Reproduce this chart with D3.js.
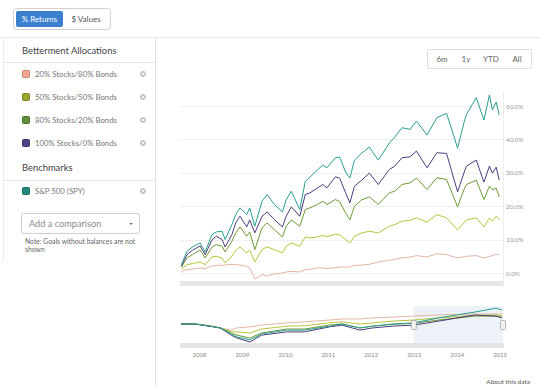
<!DOCTYPE html>
<html>
<head>
<meta charset="utf-8">
<script src="https://cdn.jsdelivr.net/npm/d3@7"></script>
<style>
  body { margin: 0; background: #fff; }
  svg { display: block; font-family: Lato, "Open Sans", sans-serif; }
</style>
</head>
<body>
<script>
// main chart data, % returns since Jan 2013
const dates = ['2013-01-02','2013-01-15','2013-01-28','2013-02-15','2013-02-27','2013-03-15','2013-03-25','2013-04-08',
  '2013-04-15','2013-05-01','2013-05-10','2013-05-20','2013-06-05','2013-06-12','2013-06-24','2013-07-11',
  '2013-07-23','2013-08-09','2013-08-28','2013-09-06','2013-09-18','2013-10-08','2013-10-21','2013-11-01',
  '2013-11-18','2013-12-01','2013-12-11','2013-12-31','2014-01-10','2014-01-24','2014-02-03','2014-02-14',
  '2014-03-03','2014-03-21','2014-04-11','2014-05-07','2014-05-20','2014-06-06','2014-06-25','2014-07-10',
  '2014-08-04','2014-08-27','2014-09-19','2014-10-15','2014-10-30','2014-11-05','2014-11-28','2014-12-16',
  '2014-12-29','2015-01-05','2015-01-14','2015-01-21'];
const sp500 = [2.5, 6.5, 7.8, 9.0, 6.3, 11.5, 12.3, 12.5, 10.0, 14.5, 17.5, 19.5, 17.5, 19.5, 14.0, 21.5,
  23.5, 20.5, 18.3, 21.9, 24.5, 19.0, 27.5, 28.7, 30.8, 32.3, 31.5, 34.5, 34.7, 30.2, 28.4, 33.8,
  35.9, 37.7, 33.8, 38.9, 40.7, 43.5, 43.0, 45.5, 41.3, 46.5, 47.8, 37.4, 45.0, 47.5, 52.5, 45.8,
  53.3, 48.8, 51.2, 47.3];
const stocks100 = [2.0, 5.5, 6.8, 8.1, 5.5, 9.9, 11.0, 10.0, 7.8, 11.5, 15.0, 17.0, 13.8, 15.9, 12.0, 17.0,
  18.3, 16.0, 13.8, 17.0, 19.8, 17.0, 23.5, 24.0, 25.4, 26.5, 25.5, 28.8, 28.4, 24.0, 21.0, 26.0,
  27.8, 29.9, 26.5, 31.0, 32.0, 34.5, 34.8, 36.5, 31.5, 36.0, 35.8, 24.3, 30.0, 32.0, 33.8, 27.2,
  32.0, 29.9, 31.7, 27.8];
const stocks80 = [1.8, 4.5, 5.5, 6.9, 4.5, 7.8, 8.5, 8.0, 6.3, 9.5, 12.0, 13.8, 11.0, 12.3, 7.0, 13.5,
  15.0, 13.0, 10.8, 14.0, 15.9, 14.0, 19.0, 19.5, 20.5, 21.5, 20.5, 22.0, 21.3, 18.0, 15.9, 20.0,
  21.9, 22.8, 20.5, 24.0, 24.5, 26.5, 27.0, 28.4, 25.0, 28.5, 28.0, 19.8, 25.0, 26.5, 27.8, 22.0,
  26.0, 24.9, 25.4, 22.8];
const stocks50 = [1.2, 2.5, 2.8, 3.3, 2.5, 4.8, 5.0, 4.5, 3.0, 5.0, 6.8, 7.8, 6.0, 6.9, 3.3, 7.0,
  7.8, 7.0, 6.0, 8.0, 9.0, 8.0, 10.8, 10.5, 10.8, 11.3, 10.8, 11.6, 11.4, 10.0, 9.0, 11.0,
  12.0, 12.5, 12.0, 14.0, 14.5, 15.5, 15.8, 16.5, 15.2, 17.5, 16.5, 12.9, 15.0, 15.9, 16.5, 13.8,
  16.5, 15.5, 17.0, 16.0];
const stocks20 = [0.5, 1.0, 1.2, 1.5, 1.3, 2.1, 2.3, 2.3, 2.4, 2.6, 2.5, 2.4, 2.0, 1.5, -1.8, -0.5,
  -0.9, -0.3, 0.0, 0.3, 0.5, 0.3, 1.0, 1.1, 1.5, 1.5, 1.3, 1.6, 1.8, 1.8, 1.8, 2.2,
  2.4, 2.6, 3.3, 3.8, 4.1, 4.5, 4.8, 5.2, 4.8, 5.8, 5.5, 4.5, 4.9, 5.0, 5.2, 4.5,
  5.0, 5.2, 5.6, 5.4];

// navigator data, % since Aug 2007
const navDates = ['2007-08-01','2007-12-01','2008-04-01','2008-07-01','2008-10-01','2008-11-20','2009-03-09',
  '2009-06-15','2010-01-15','2010-06-15','2011-01-15','2011-05-01','2011-10-01','2012-01-15','2012-07-01',
  '2013-01-02','2013-08-01','2014-06-01','2014-12-01','2015-01-21'];
const navSp500 = [0, 0, -6, -11, -28, -36, -44, -28, -17, -17, -6, 0, -11, -6, 0, 3, 17, 33, 44, 39];
const nav100 = [0, 0, -6, -11, -31, -39, -50, -31, -22, -22, -8, -3, -17, -11, -6, -3, 8, 25, 22, 17];
const nav80 = [0, 0, -6, -11, -25, -31, -39, -25, -14, -14, -3, 0, -11, -6, -1, 2, 11, 22, 22, 19];
const nav50 = [0, 0, -5, -11, -21, -22, -25, -14, -6, -5, 3, 6, 0, 3, 8, 11, 17, 24, 25, 24];
const nav20 = [0, 0, -5, -11, -17, -11, -8, -3, 3, 6, 11, 14, 14, 17, 19, 22, 25, 28, 28, 28];

const yTicks = [0, 10, 20, 30, 40, 50];
const xTicks = ['2013-01-01','2013-04-01','2013-07-01','2013-10-01','2014-01-01','2014-04-01','2014-07-01','2014-10-01','2015-01-01'];
const navTicks = ['2008','2009','2010','2011','2012','2013','2014','2015'];
const rangeButtons = ['6m', '1y', 'YTD', 'All'];

const allocations = ['20% Stocks/80% Bonds', '50% Stocks/50% Bonds', '80% Stocks/20% Bonds', '100% Stocks/0% Bonds'];
const benchmarks = ['S&P 500 (SPY)'];
const swatchColors = ['#f0a690', '#9aa52c', '#5e8c36', '#4b4281', '#23897c'];
const lineColors = ['#e4b4a8', '#b9c43c', '#6c9b38', '#4d3d7c', '#2a9e8f'];

const parse = d3.timeParse('%Y-%m-%d');
const W = 540, H = 387;

const svg = d3.select('body').append('svg')
    .attr('width', W)
    .attr('height', H);

// page frame
svg.append('line').attr('x1', 0).attr('x2', W).attr('y1', 37.5).attr('y2', 37.5).attr('stroke', '#e8e8e8');
svg.append('line').attr('x1', 155.5).attr('x2', 155.5).attr('y1', 37).attr('y2', H).attr('stroke', '#e3e3e3');
svg.append('line').attr('x1', 3.5).attr('x2', 3.5).attr('y1', 37).attr('y2', 262).attr('stroke', '#ececec');

// tabs
svg.append('rect').attr('x', 13.5).attr('y', 8.5).attr('width', 97).attr('height', 21).attr('rx', 3)
    .attr('fill', '#fff').attr('stroke', '#d2d2d2');
svg.append('rect').attr('x', 16).attr('y', 11).attr('width', 47).attr('height', 16).attr('rx', 2).attr('fill', '#3c7fce');
svg.append('text').attr('x', 39.5).attr('y', 22).attr('text-anchor', 'middle').attr('font-size', 8)
    .attr('fill', '#fff').text('% Returns');
svg.append('text').attr('x', 86).attr('y', 22).attr('text-anchor', 'middle').attr('font-size', 8)
    .attr('fill', '#555').text('$ Values');

// left panel
svg.append('text').attr('x', 22).attr('y', 54).attr('font-size', 9.4).attr('fill', '#444').text('Betterment Allocations');
svg.append('line').attr('x1', 4).attr('x2', 155).attr('y1', 62.5).attr('y2', 62.5).attr('stroke', '#e6e6e6');
svg.append('text').attr('x', 22).attr('y', 171).attr('font-size', 9.4).attr('fill', '#444').text('Benchmarks');
svg.append('line').attr('x1', 4).attr('x2', 155).attr('y1', 180.5).attr('y2', 180.5).attr('stroke', '#e6e6e6');

const legendItems = allocations.map((d, i) => ({name: d, y: 74 + i * 23, color: swatchColors[i]}))
    .concat(benchmarks.map(d => ({name: d, y: 191, color: swatchColors[4]})));

const item = svg.selectAll('g.item')
    .data(legendItems)
    .join('g')
    .attr('class', 'item')
    .attr('transform', d => `translate(0,${d.y})`);
item.append('rect').attr('x', 22.5).attr('y', -3.5).attr('width', 7).attr('height', 7).attr('rx', 1)
    .attr('fill', d => d.color).attr('stroke', d => d3.color(d.color).darker(0.6));
item.append('text').attr('x', 35).attr('y', 3).attr('font-size', 7.8).attr('fill', '#777').text(d => d.name);
item.append('circle').attr('cx', 143).attr('cy', 0).attr('r', 3).attr('fill', '#c4c4c4');
item.append('path').attr('d', 'M141.6,-1.4L144.4,1.4M144.4,-1.4L141.6,1.4').attr('stroke', '#fff').attr('stroke-width', 0.8);

// add a comparison dropdown
svg.append('rect').attr('x', 21.5).attr('y', 213.5).attr('width', 118).attr('height', 20).attr('rx', 2)
    .attr('fill', '#fff').attr('stroke', '#cfcfcf');
svg.append('text').attr('x', 29).attr('y', 227).attr('font-size', 9.2).attr('fill', '#8a8a8a').text('Add a comparison');
svg.append('path').attr('d', 'M129,223L133,223L131,225Z').attr('fill', '#777');
svg.append('text').attr('x', 25).attr('y', 244).attr('font-size', 6.8).attr('fill', '#666')
    .text('Note: Goals without balances are not');
svg.append('text').attr('x', 25).attr('y', 252).attr('font-size', 6.8).attr('fill', '#666').text('shown');

// range selector
svg.append('rect').attr('x', 427.5).attr('y', 49.5).attr('width', 104).attr('height', 19).attr('rx', 2)
    .attr('fill', '#fff').attr('stroke', '#ddd');
svg.selectAll('text.range')
    .data(rangeButtons)
    .join('text')
    .attr('class', 'range')
    .attr('x', (d, i) => [442, 466, 491, 517][i])
    .attr('y', 62)
    .attr('text-anchor', 'middle')
    .attr('font-size', 8)
    .attr('fill', '#666')
    .text(d => d);

// main chart
const x = d3.scaleTime()
    .domain([parse('2013-01-01'), parse('2015-01-30')])
    .range([181, 503]);
const y = d3.scaleLinear().domain([0, 50]).range([273, 106]);

svg.append('defs').append('clipPath').attr('id', 'plotClip')
    .append('rect').attr('x', 179).attr('y', 90).attr('width', 325).attr('height', 192);
svg.select('defs').append('clipPath').attr('id', 'labelClip')
    .append('rect').attr('x', 171).attr('y', 285).attr('width', 369).attr('height', 20);

svg.append('g')
    .selectAll('line')
    .data(yTicks)
    .join('line')
    .attr('x1', 180).attr('x2', 503)
    .attr('y1', d => Math.round(y(d)) + 0.5).attr('y2', d => Math.round(y(d)) + 0.5)
    .attr('stroke', '#efefef');

svg.append('rect').attr('x', 180).attr('y', 281).attr('width', 324).attr('height', 5).attr('fill', '#e6e6e6');
svg.append('line').attr('x1', 503.5).attr('x2', 503.5).attr('y1', 92).attr('y2', 286).attr('stroke', '#eeeeee');

const yAxis = svg.append('g')
    .attr('transform', 'translate(504,0)')
    .call(d3.axisRight(y).tickValues(yTicks).tickSize(0).tickPadding(2).tickFormat(d => d.toFixed(1) + '%'));
yAxis.select('.domain').remove();
yAxis.selectAll('text').attr('font-size', 6.3).attr('fill', '#999').attr('font-family', 'Lato, sans-serif');

const xAxis = svg.append('g')
    .attr('transform', 'translate(0,292)')
    .attr('clip-path', 'url(#labelClip)')
    .call(d3.axisBottom(x).tickValues(xTicks.map(parse)).tickSize(0).tickPadding(0).tickFormat(d3.timeFormat('%b %Y')));
xAxis.select('.domain').remove();
xAxis.selectAll('text').attr('font-size', 6.3).attr('fill', '#8a8a8a').attr('font-family', 'Lato, sans-serif');

const mainSeries = [stocks20, stocks50, stocks80, stocks100, sp500];
const line = d3.line()
    .x((d, i) => x(parse(dates[i])))
    .y(d => y(d));

svg.append('g')
    .attr('clip-path', 'url(#plotClip)')
    .selectAll('path')
    .data(mainSeries)
    .join('path')
    .attr('d', line)
    .attr('fill', 'none')
    .attr('stroke', (d, i) => lineColors[i])
    .attr('stroke-width', 1)
    .attr('stroke-linejoin', 'round');

// navigator
const nx = d3.scaleTime()
    .domain([parse('2007-08-01'), parse('2015-01-30')])
    .range([181, 503]);
const ny = d3.scaleLinear().domain([-50, 45]).range([342, 307.8]);

svg.append('rect')
    .attr('x', nx(parse('2013-01-01'))).attr('y', 306)
    .attr('width', 503 - nx(parse('2013-01-01'))).attr('height', 41)
    .attr('fill', '#edf2f9');
svg.append('rect').attr('x', 180).attr('y', 343).attr('width', 324).attr('height', 5).attr('fill', '#e4e4e4');

const navSeries = [nav20, nav50, nav80, nav100, navSp500];
const navLine = d3.line()
    .x((d, i) => nx(parse(navDates[i])))
    .y(d => ny(d));
svg.append('g')
    .selectAll('path')
    .data(navSeries)
    .join('path')
    .attr('d', navLine)
    .attr('fill', 'none')
    .attr('stroke', (d, i) => lineColors[i])
    .attr('stroke-width', 1);

// navigator handles
[nx(parse('2013-01-01')), 503].forEach(hx => {
  svg.append('rect').attr('x', hx - 2.5).attr('y', 320.5).attr('width', 5).attr('height', 9).attr('rx', 1)
      .attr('fill', '#f2f2f2').attr('stroke', '#999').attr('stroke-width', 0.7);
});

const navAxis = svg.append('g')
    .attr('transform', 'translate(0,353)')
    .call(d3.axisBottom(nx).tickValues(navTicks.map(d => parse(d + '-01-01'))).tickSize(0).tickPadding(0)
      .tickFormat(d3.timeFormat('%Y')));
navAxis.select('.domain').remove();
navAxis.selectAll('text').attr('font-size', 6).attr('fill', '#8a8a8a').attr('font-family', 'Lato, sans-serif');

svg.append('text').attr('x', 530).attr('y', 384).attr('text-anchor', 'end').attr('font-size', 6.5)
    .attr('fill', '#555').text('About this data');
</script>
</body>
</html>
